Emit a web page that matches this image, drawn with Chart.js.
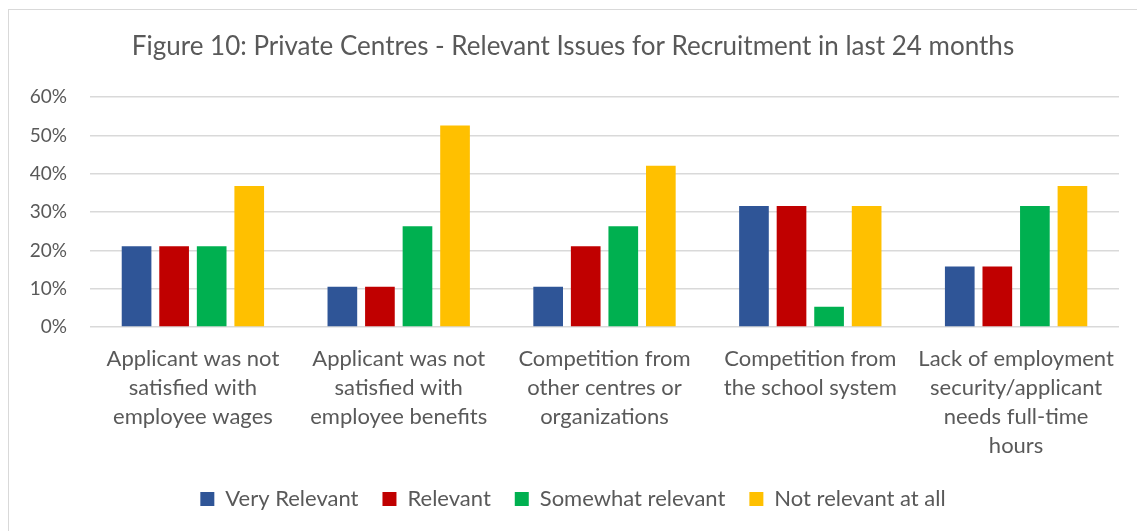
<!DOCTYPE html>
<html>
<head>
<meta charset="utf-8">
<title>Private Centres - Recruitment Issues</title>
<script src="https://cdn.jsdelivr.net/npm/chart.js@4/dist/chart.umd.min.js"></script>
<style>
    html, body { margin: 0; padding: 0; background: #fff; overflow: hidden; }
    #frame {
        position: absolute; left: 8px; top: 9px;
        width: 1140px; height: 540px;
        border: 1px solid #d9d9d9;
    }
    #wrap { position: absolute; left: 0; top: 0; width: 1137px; height: 531px; }
</style>
</head>
<body>
<div id="frame"></div>
<div id="wrap"><canvas id="recruitChart" width="1137" height="531"></canvas></div>
<script>
// Issue categories (multi-line tick labels)
const categories = [
    ['Applicant was not', 'satisfied with', 'employee wages'],
    ['Applicant was not', 'satisfied with', 'employee benefits'],
    ['Competition from', 'other centres or', 'organizations'],
    ['Competition from', 'the school system'],
    ['Lack of employment', 'security/applicant', 'needs full-time', 'hours']
];

// Share of responses per rating (%)
const veryRelevant     = [21.1, 10.5, 10.5, 31.6, 15.8];
const relevant         = [21.1, 10.5, 21.1, 31.6, 15.8];
const somewhatRelevant = [21.1, 26.3, 26.3, 5.3, 31.6];
const notRelevant      = [36.8, 52.6, 42.1, 31.6, 36.8];

const yTicks = [0, 10, 20, 30, 40, 50, 60];

const textColor = '#595959';
const fontFamily = 'Lato, "Open Sans", sans-serif';

const ctx = document.getElementById('recruitChart').getContext('2d');
new Chart(ctx, {
    type: 'bar',
    data: {
        labels: categories,
        datasets: [
            { label: 'Very Relevant', data: veryRelevant, backgroundColor: '#2F5597' },
            { label: 'Relevant', data: relevant, backgroundColor: '#C00000' },
            { label: 'Somewhat relevant', data: somewhatRelevant, backgroundColor: '#00B050' },
            { label: 'Not relevant at all', data: notRelevant, backgroundColor: '#FFC000' }
        ]
    },
    options: {
        responsive: false,
        animation: false,
        categoryPercentage: 0.73,
        barPercentage: 0.79,
        layout: {
            padding: { left: 27, right: 18, top: 10, bottom: 11 }
        },
        scales: {
            x: {
                grid: { display: false, drawTicks: false },
                border: { display: false },
                ticks: {
                    color: textColor,
                    font: { family: fontFamily, size: 22, lineHeight: '29px' },
                    padding: 17,
                    maxRotation: 0,
                    autoSkip: false
                },
                // the measured label block is taller than the drawn lines
                afterFit: scale => { scale.height -= 13; }
            },
            y: {
                min: 0,
                max: 60,
                afterBuildTicks: axis => {
                    axis.ticks = yTicks.map(v => ({ value: v }));
                },
                grid: { color: '#d9d9d9', lineWidth: 1.5, drawTicks: false },
                border: { display: false },
                ticks: {
                    color: textColor,
                    font: { family: fontFamily, size: 19 },
                    padding: 23,
                    callback: v => v + '%'
                },
                afterFit: scale => { scale.width = 63; }
            }
        },
        plugins: {
            title: {
                display: true,
                text: 'Figure 10: Private Centres - Relevant Issues for Recruitment in last 24 months',
                color: textColor,
                font: { family: fontFamily, size: 26, weight: 'normal' },
                padding: { top: 21, bottom: 35 }
            },
            legend: {
                position: 'bottom',
                labels: {
                    color: textColor,
                    font: { family: fontFamily, size: 22 },
                    boxWidth: 14,
                    boxHeight: 14,
                    padding: 24
                }
            },
            tooltip: { enabled: false }
        }
    }
});
</script>
</body>
</html>
